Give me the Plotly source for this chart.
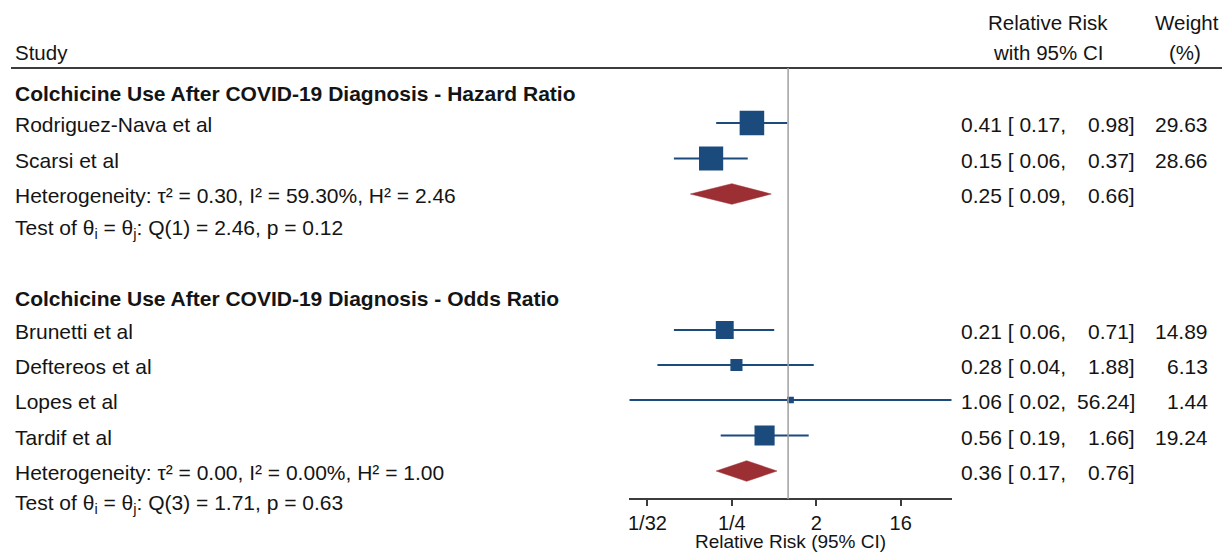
import math
import plotly.graph_objects as go

# ---------------- data ----------------
section_titles = [
    "Colchicine Use After COVID-19 Diagnosis - Hazard Ratio",
    "Colchicine Use After COVID-19 Diagnosis - Odds Ratio",
]
studies = ["Rodriguez-Nava et al", "Scarsi et al",
           "Brunetti et al", "Deftereos et al", "Lopes et al", "Tardif et al"]
study_section = [0, 0, 1, 1, 1, 1]
rr = [0.41, 0.15, 0.21, 0.28, 1.06, 0.56]
rr_lo = [0.17, 0.06, 0.06, 0.04, 0.02, 0.19]
rr_hi = [0.98, 0.37, 0.71, 1.88, 56.24, 1.66]
weight = [29.63, 28.66, 14.89, 6.13, 1.44, 19.24]

pooled_rr = [0.25, 0.36]
pooled_lo = [0.09, 0.17]
pooled_hi = [0.66, 0.76]
het_text = [
    "Heterogeneity: τ² = 0.30, I² = 59.30%, H² = 2.46",
    "Heterogeneity: τ² = 0.00, I² = 0.00%, H² = 1.00",
]
test_text = [
    "Test of θ<sub>i</sub> = θ<sub>j</sub>: Q(1) = 2.46, p = 0.12",
    "Test of θ<sub>i</sub> = θ<sub>j</sub>: Q(3) = 1.71, p = 0.63",
]
tick_vals = [1 / 32, 1 / 4, 2, 16]
tick_text = ["1/32", "1/4", "2", "16"]
x_title = "Relative Risk (95% CI)"

# ---------------- layout constants (pixel rows) ----------------
W, H = 1222, 552
FONT = "Liberation Sans, Arial, Helvetica, sans-serif"
FS = 21          # body text
FS_HEAD = 20.5   # column headers
FS_TICK = 20
FS_TITLE = 19
TXT = "#141414"
NAVY = "#1b4a7c"
RED = "#9c2f33"
header_y = [92, 297]
study_y = [123, 158.5, 330, 365, 400, 435.5]
pooled_y = [194, 471]
test_y = [229, 504]
TXT_DY = 1.5
AXIS_Y = 499
TOP_LINE_Y = 68
TITLE_Y = 541
X0_PX, X1_PX = 629.3, 951.7


def px(x):
    return x / W


fig = go.Figure()

# CI lines
for i in range(len(studies)):
    fig.add_trace(go.Scatter(
        x=[rr_lo[i], rr_hi[i]], y=[study_y[i], study_y[i]],
        mode="lines", line=dict(color=NAVY, width=2),
        hoverinfo="skip", showlegend=False))

# weight squares
fig.add_trace(go.Scatter(
    x=rr, y=study_y, mode="markers",
    marker=dict(symbol="square", color=NAVY, opacity=1,
                size=[4.2 * math.sqrt(w) + 1.7 for w in weight],
                line=dict(width=0)),
    showlegend=False, hoverinfo="x"))

# pooled diamonds
HALF = 10.3
for s in range(2):
    fig.add_trace(go.Scatter(
        x=[pooled_lo[s], pooled_rr[s], pooled_hi[s], pooled_rr[s], pooled_lo[s]],
        y=[pooled_y[s], pooled_y[s] - HALF, pooled_y[s], pooled_y[s] + HALF, pooled_y[s]],
        mode="lines", fill="toself", fillcolor=RED,
        line=dict(color=RED, width=0.5), showlegend=False, hoverinfo="skip"))

ann = []


def add(text, xpx, y, anchor="left", bold=False, size=FS):
    ann.append(dict(
        text=f"<b>{text}</b>" if bold else text,
        x=px(xpx), xref="paper", y=y, yref="y",
        xanchor=anchor, yanchor="middle", showarrow=False,
        font=dict(family=FONT, size=size, color=TXT)))


# column headers
add("Study", 13, 52, size=FS_HEAD)
add("Relative Risk", 1048, 22, "center", size=FS_HEAD)
add("with 95% CI", 1048, 52, "center", size=FS_HEAD)
add("Weight", 1187, 22, "center", size=FS_HEAD)
add("(%)", 1185, 52, "center", size=FS_HEAD)

for s in range(2):
    add(section_titles[s], 13, header_y[s] + TXT_DY, bold=True)
    add(het_text[s], 13, pooled_y[s] + TXT_DY)
    add(test_text[s], 13, test_y[s])
    add(f"{pooled_rr[s]:.2f} [ {pooled_lo[s]:.2f},", 959, pooled_y[s] + TXT_DY)
    add(f"{pooled_hi[s]:.2f}]", 1137, pooled_y[s] + TXT_DY, "right")

for i in range(len(studies)):
    y = study_y[i] + TXT_DY
    add(studies[i], 13, y)
    add(f"{rr[i]:.2f} [ {rr_lo[i]:.2f},", 959, y)
    add(f"{rr_hi[i]:.2f}]", 1137, y, "right")
    add(f"{weight[i]:.2f}", 1210, y, "right")

# x-axis title (placed just under the tick labels)
ann.append(dict(
    text=x_title, x=0.5, xref="x domain", y=(H - TITLE_Y) / H, yref="paper",
    xanchor="center", yanchor="middle", showarrow=False,
    font=dict(family=FONT, size=FS_TITLE, color=TXT)))

shapes = [
    dict(type="line", xref="paper", yref="y", x0=px(11), x1=1, y0=TOP_LINE_Y, y1=TOP_LINE_Y,
         line=dict(color="#3c3c3c", width=2)),
    dict(type="line", xref="x", yref="y", x0=1, x1=1, y0=TOP_LINE_Y, y1=AXIS_Y,
         line=dict(color="#a0a0a0", width=1.5)),
]

xmin = min(rr_lo)
xmax = max(rr_hi)
fig.update_layout(
    width=W, height=H,
    margin=dict(l=0, r=0, t=0, b=0),
    paper_bgcolor="white", plot_bgcolor="white",
    font=dict(family=FONT, size=FS, color=TXT),
    annotations=ann, shapes=shapes,
    xaxis=dict(
        type="log", range=[math.log10(xmin), math.log10(xmax)],
        domain=[px(X0_PX), px(X1_PX)],
        anchor="free", position=(H - AXIS_Y) / H,
        tickvals=tick_vals, ticktext=tick_text,
        ticks="outside", ticklen=6, tickwidth=1.5, tickcolor="#3c3c3c",
        showline=True, linecolor="#3c3c3c", linewidth=1.5,
        showgrid=False, zeroline=False,
        tickfont=dict(family=FONT, size=FS_TICK, color=TXT),
    ),
    yaxis=dict(range=[H, 0], domain=[0, 1], visible=False, showgrid=False, zeroline=False),
    hovermode="closest",
)

fig.write_html("out.html", config={"displayModeBar": False},
               post_script="document.body.style.margin='0';document.body.style.overflow='hidden';")
